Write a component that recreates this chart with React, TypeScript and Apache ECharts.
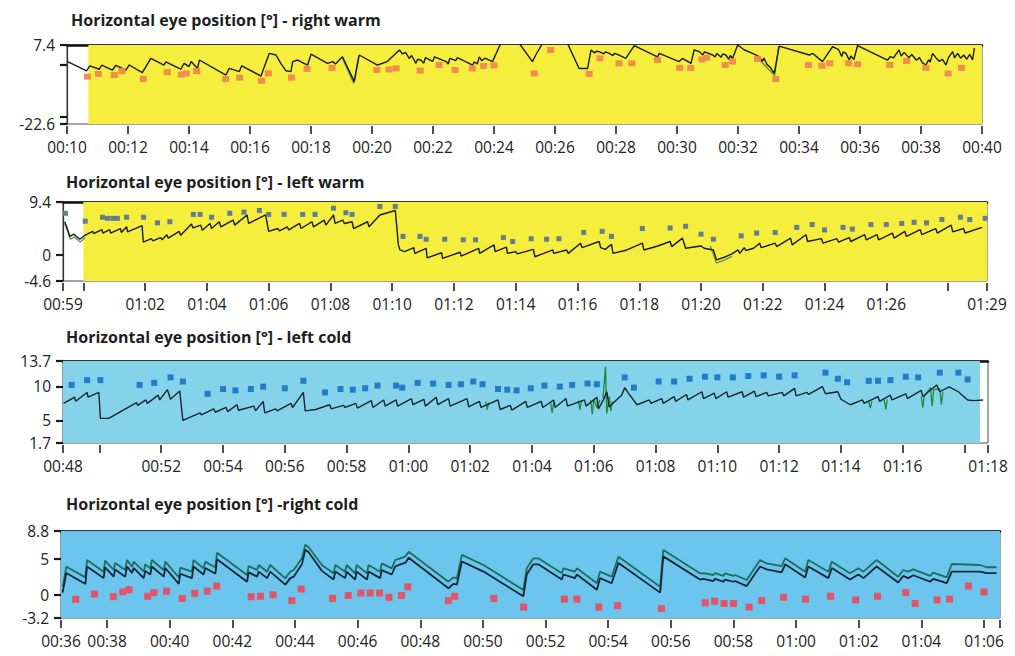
import React, { useEffect, useRef } from "react";
import * as echarts from "echarts";

// ---------- Panel 1: right warm ----------
const rwTrace: number[][] = [
  [10.02, 1.1], [10.64, -2.4], [10.75, -0.5], [11.06, -1.8], [11.14, -0.2], [11.49, -2.1], [11.6, -0.3],
  [11.93, -2.1], [12.04, -0.2], [12.47, -3.1], [12.75, 2.3], [13.18, -0.2], [13.24, 1.0], [13.73, -1.8],
  [13.84, 0.45], [14.0, -0.8], [14.07, 1.1], [14.28, -1.5], [14.34, 1.7], [15.21, -4.0], [15.32, -1.5],
  [15.65, -2.7], [15.73, -0.5], [16.36, -4.4], [16.63, 4.2], [16.85, 3.6], [17.01, 0.45], [17.18, -2.4],
  [17.34, -2.7], [17.4, 1.1], [17.56, 1.7], [17.89, -0.2], [18.0, 3.9], [18.54, 0.45], [18.71, 1.1],
  [18.8, 0.2], [19.03, 2.9], [19.42, -6.5], [19.58, 3.6], [20.18, -0.2], [20.5, 1.1], [20.9, 5.5],
  [21.0, 4.0], [21.1, 4.6], [21.22, 2.3], [21.3, 3.4], [21.44, 0.45], [21.5, 2.0], [21.6, 1.7],
  [21.7, 0.5], [21.75, 2.6], [21.99, 1.2], [22.05, 2.9], [22.43, 1.1], [22.5, 0.2], [22.55, 2.3],
  [22.75, 1.5], [22.8, 2.6], [23.3, -0.2], [23.35, 1.0], [23.45, 0.2], [23.52, 2.9], [23.6, 1.4],
  [23.7, 2.4], [23.95, 1.1], [24.22, 8.0], [24.83, 8.0], [25.26, 1.1], [25.37, 3.6], [25.59, 8.0],
  [25.86, 8.0], [26.41, 8.0], [26.79, -1.5], [27.07, -1.5], [27.18, 5.5], [27.3, 4.4], [27.35, 5.0],
  [27.45, 4.9], [27.6, 4.0], [27.65, 4.8], [27.78, 4.2], [27.9, 3.4], [27.95, 4.2], [28.1, 3.6],
  [28.32, 2.3], [28.6, 7.2], [29.36, 2.9], [29.42, 4.2], [30.07, 1.1], [30.18, 2.3], [30.46, 0.45],
  [30.56, 5.5], [30.73, 4.9], [30.85, 3.6], [30.9, 4.8], [31.17, 3.6], [31.25, 2.9], [31.3, 4.2],
  [31.45, 2.8], [31.5, 4.0], [31.6, 3.6], [31.7, 2.0], [31.75, 3.4], [31.82, 2.3], [31.99, 7.4],
  [32.2, 5.6], [32.4, 4.6], [32.55, 3.8], [32.7, 2.9], [32.8, 1.2], [32.85, 2.4], [32.95, 0.0],
  [33.05, -1.0], [33.19, -3.4], [33.35, 7.0], [34.34, 3.6], [34.45, 4.2], [34.77, 1.1], [35.1, 6.8],
  [35.3, 5.6], [35.4, 3.0], [35.45, 4.8], [35.54, 4.2], [35.65, 1.7], [35.7, 3.2], [35.8, 1.9],
  [35.92, 7.2], [36.9, 1.7], [37.0, 3.0], [37.1, 2.5], [37.2, 4.2], [37.28, 5.5], [37.35, 3.2],
  [37.45, 4.6], [37.6, 2.6], [37.7, 3.8], [37.85, 1.6], [37.95, 2.6], [38.05, 0.6], [38.16, -0.2],
  [38.25, 1.8], [38.3, 0.9], [38.38, 4.2], [38.5, 2.4], [38.6, 1.2], [38.7, 2.0], [38.82, -0.2],
  [38.9, 2.6], [39.04, 4.9], [39.1, 2.5], [39.2, 4.2], [39.3, 2.4], [39.4, 3.6], [39.5, 2.0],
  [39.6, 3.8], [39.69, 1.7], [39.75, 6.2],
];
const rwGreen: (number | string)[][] = [
  [19.03, 2.5], [19.4, -7.2], [19.56, 3.0], ["-", "-"],
  [32.6, 3.0], [33.2, -4.2], [33.33, 6.6],
];
const rwPoints: number[][] = [
  [10.67, -4.6], [11.03, -3.6], [11.55, -4.0], [11.8, -2.5], [12.5, -5.5], [13.29, -2.9], [13.75, -3.8],
  [13.91, -3.4], [14.25, -2.5], [15.2, -5.5], [15.66, -5.0], [16.38, -6.2], [16.6, -3.4], [17.36, -5.0],
  [17.87, -1.7], [18.69, -1.3], [20.16, -2.1], [20.56, -1.9], [20.79, -1.5], [21.58, -2.3], [22.2, -0.2],
  [22.72, -2.1], [23.29, -1.5], [23.66, -0.6], [24.0, -0.3], [25.32, -3.4], [25.86, 5.5], [27.12, -3.6],
  [27.47, 2.3], [28.1, 0.45], [28.52, 0.45], [29.36, 1.7], [30.09, -1.3], [30.45, -1.3], [30.81, 1.9],
  [30.97, 2.6], [31.58, -0.2], [31.82, 1.1], [32.64, 2.1], [33.24, -5.5], [34.31, -0.2], [34.75, -0.5],
  [35.01, 0.45], [35.63, 0.45], [35.92, 0.1], [36.98, -0.2], [37.53, 1.3], [38.16, -1.3], [38.89, -3.4],
  [39.33, -1.3],
];
const rwXTicks = [10, 12, 14, 16, 18, 20, 22, 24, 26, 28, 30, 32, 34, 36, 38, 40];
const rwXLabels = [10, 12, 14, 16, 18, 20, 22, 24, 26, 28, 30, 32, 34, 36, 38, 40];
const rwYTicks = [7.4, 0, -20, -22.6];
const rwYLabels = [7.4, -22.6];

// ---------- Panel 2: left warm ----------
const lwTrace: number[][] = [
  [59.39, 5.9], [59.46, 5.0], [59.56, 3.3], [59.69, 3.7], [59.88, 2.8], [60.05, 3.5], [60.3, 4.2],
  [60.33, 3.8], [60.6, 4.5], [60.63, 3.9], [60.85, 4.5], [60.88, 3.9], [61.2, 4.7], [61.23, 4.0],
  [61.4, 5.0], [61.43, 4.1], [61.9, 5.2], [61.94, 2.3], [62.2, 2.9], [62.25, 2.5], [62.5, 3.1],
  [62.55, 2.7], [62.7, 3.6], [62.75, 3.0], [63.1, 4.2], [63.15, 3.5], [63.5, 5.5], [63.55, 4.8],
  [63.8, 5.3], [63.85, 4.4], [64.1, 5.6], [64.15, 4.7], [64.4, 5.9], [64.45, 5.0], [64.85, 6.2],
  [64.9, 5.3], [65.3, 7.1], [65.35, 5.6], [65.9, 7.1], [66.0, 4.2], [66.3, 4.7], [66.35, 4.3],
  [66.6, 5.0], [66.65, 4.45], [67.0, 5.6], [67.05, 4.7], [67.4, 5.9], [67.45, 5.0], [67.8, 6.2],
  [67.85, 5.3], [68.1, 7.1], [68.15, 5.6], [68.4, 6.2], [68.45, 5.6], [68.7, 5.9], [68.75, 4.7],
  [69.2, 5.9], [69.25, 5.0], [69.6, 7.1], [70.1, 7.9], [70.2, 1.8], [70.25, 0.9], [70.4, 0.6],
  [70.7, 1.3], [70.73, 0.3], [71.1, 1.2], [71.13, -0.5], [71.6, 0.4], [71.63, -0.6], [72.2, 0.5],
  [72.23, -0.2], [72.8, 1.2], [72.83, 0.3], [73.3, 1.8], [73.33, 0.6], [73.7, 1.4], [73.73, 0.3],
  [74.0, 0.6], [74.05, 0.2], [74.57, 1.0], [74.62, -0.3], [74.95, 0.4], [75.2, 0.9], [75.23, 0.3],
  [75.65, 0.9], [75.7, 0.3], [76.1, 2.1], [76.15, 1.3], [76.7, 2.4], [76.75, 1.3], [76.9, 1.0],
  [77.1, 1.9], [77.15, 0.3], [77.6, 0.9], [78.1, 2.1], [78.15, 0.9], [78.6, 1.6], [79.0, 2.4],
  [79.05, 1.5], [79.4, 3.0], [79.5, 1.2], [80.0, 1.6], [80.1, 1.2], [80.4, 0.9], [80.5, -0.85],
  [80.8, -0.3], [81.0, 0.2], [81.2, 0.9], [81.25, 0.3], [81.4, 1.3], [81.45, 0.8], [81.7, 1.2],
  [81.9, 2.1], [81.95, 1.3], [82.4, 2.1], [82.45, 1.5], [82.9, 3.0], [82.95, 1.8], [83.4, 3.6],
  [83.45, 2.4], [83.9, 2.9], [83.95, 2.1], [84.4, 2.9], [84.45, 2.3], [84.8, 3.1], [84.85, 2.4],
  [85.3, 3.6], [85.35, 2.7], [85.7, 3.6], [85.75, 2.7], [86.2, 3.9], [86.25, 3.0], [86.6, 4.2],
  [86.65, 3.3], [87.1, 4.5], [87.15, 3.6], [87.6, 4.7], [87.65, 3.9], [88.1, 5.3], [88.15, 4.1],
  [88.5, 4.7], [88.55, 3.9], [89.1, 4.9],
];
const lwGreen: (number | string)[][] = [
  [59.4, 5.5], [59.47, 4.5], [59.58, 2.8], [59.7, 3.2], [59.9, 2.3], [60.05, 3.1], ["-", "-"],
  [80.3, 1.6], [80.5, -1.4], [80.8, -0.8], [81.0, -0.2],
];
const lwPoints: number[][] = [
  [59.42, 7.4], [60.06, 6.0], [60.62, 6.7], [60.78, 6.5], [60.95, 6.5], [61.1, 6.5], [61.4, 6.7],
  [61.95, 6.7], [62.4, 5.7], [62.8, 5.9], [63.56, 7.2], [63.78, 7.2], [64.15, 6.7], [64.74, 7.4],
  [65.2, 7.6], [65.7, 7.9], [66.0, 7.2], [66.5, 7.2], [67.1, 7.2], [67.5, 7.2], [68.1, 8.3],
  [68.5, 7.5], [68.7, 7.2], [69.6, 8.6], [70.1, 8.6], [70.35, 3.3], [70.9, 3.3], [71.1, 2.8],
  [71.7, 2.8], [72.3, 2.7], [72.7, 2.7], [73.6, 3.1], [73.9, 2.4], [74.5, 2.9], [75.0, 2.8],
  [75.4, 2.9], [76.2, 4.0], [76.8, 4.2], [77.1, 3.3], [78.1, 4.7], [79.0, 4.8], [79.5, 5.1],
  [80.0, 3.7], [80.4, 2.8], [81.3, 3.4], [81.8, 3.9], [82.4, 4.0], [83.1, 4.9], [83.6, 5.4],
  [84.0, 4.45], [84.6, 4.9], [84.9, 4.6], [85.5, 5.4], [86.0, 5.4], [86.5, 5.6], [86.9, 5.8],
  [87.3, 5.7], [87.8, 6.3], [88.4, 6.7], [88.7, 6.3], [89.2, 6.5],
];
const lwXTicks = [59.34, 60, 62, 64, 66, 68, 70, 72, 74, 76, 78, 80, 82, 84, 86, 88, 89.26];
const lwXLabels = [59.34, 62, 64, 66, 68, 70, 72, 74, 76, 78, 80, 82, 84, 86, 89.26];
const lwYTicks = [9.4, 0, -4.6];
const lwYLabels = [9.4, 0, -4.6];

// ---------- Panel 3: left cold ----------
const lcTrace: number[][] = [
  [48.84, 7.5], [49.2, 8.4], [49.23, 7.8], [49.6, 9.1], [49.63, 8.4], [49.98, 9.1], [50.03, 5.3],
  [50.3, 5.3], [51.2, 7.6], [51.24, 7.2], [51.5, 8.0], [51.55, 7.5], [51.9, 8.7], [51.95, 8.0],
  [52.2, 9.5], [52.3, 8.1], [52.6, 9.3], [52.7, 5.0], [53.26, 6.1], [53.3, 5.8], [53.7, 6.7],
  [53.75, 6.2], [54.1, 6.9], [54.15, 6.3], [54.45, 7.3], [54.5, 6.5], [55.0, 7.1], [55.05, 6.4],
  [55.3, 7.8], [55.35, 6.1], [55.7, 6.7], [55.75, 6.4], [56.2, 7.5], [56.25, 6.9], [56.6, 9.1],
  [56.66, 6.4], [57.0, 6.6], [57.45, 7.3], [57.5, 6.7], [57.9, 7.2], [57.95, 6.9], [58.3, 7.5],
  [58.35, 6.8], [58.8, 7.9], [58.85, 6.9], [59.2, 8.0], [59.25, 7.1], [59.6, 8.0], [59.65, 7.1],
  [60.1, 8.2], [60.15, 7.3], [60.5, 8.1], [60.55, 7.1], [60.9, 8.4], [60.95, 7.3], [61.3, 8.2],
  [61.35, 7.1], [61.9, 8.2], [61.95, 7.0], [62.3, 7.8], [62.35, 6.9], [62.9, 8.0], [62.97, 6.6],
  [63.3, 7.2], [63.35, 6.5], [63.8, 7.8], [63.85, 6.9], [64.3, 7.8], [64.35, 6.9], [64.7, 8.0],
  [64.75, 6.9], [65.1, 8.2], [65.15, 7.1], [65.7, 8.0], [65.75, 7.1], [66.1, 8.4], [66.15, 6.7],
  [66.3, 7.9], [66.42, 9.2], [66.5, 7.0], [66.9, 8.7], [67.0, 9.8], [67.2, 8.5], [67.4, 7.3],
  [67.8, 8.0], [67.85, 7.5], [68.2, 8.2], [68.25, 7.5], [68.6, 8.5], [68.65, 7.8], [69.0, 8.8],
  [69.05, 8.0], [69.5, 9.2], [69.55, 8.2], [69.9, 9.0], [69.95, 8.2], [70.3, 9.2], [70.35, 8.4],
  [70.8, 9.2], [70.85, 8.4], [71.2, 9.3], [71.25, 8.5], [71.6, 9.1], [71.65, 8.6], [72.1, 9.1],
  [72.15, 8.6], [72.5, 9.7], [72.55, 8.6], [72.9, 9.1], [72.95, 8.8], [73.4, 9.95], [73.5, 8.9],
  [73.9, 9.2], [74.0, 8.1], [74.3, 7.3], [74.7, 8.0], [74.75, 7.5], [75.2, 8.5], [75.25, 7.8],
  [75.6, 8.7], [75.65, 8.0], [76.1, 8.9], [76.15, 8.2], [76.6, 9.4], [76.65, 8.5], [77.1, 10.2],
  [77.2, 9.2], [77.5, 9.9], [77.8, 9.2], [78.1, 8.0], [78.3, 7.9], [78.6, 8.0],
];
const lcGreen: (number | string)[][] = [
  [62.5, 7.8], [62.55, 6.6], [62.6, 7.6], ["-", "-"],
  [64.6, 7.7], [64.65, 6.1], [64.7, 7.6], ["-", "-"],
  [65.5, 7.9], [65.55, 6.6], [65.6, 7.9], ["-", "-"],
  [65.9, 8.0], [65.95, 5.9], [66.0, 8.1], [66.1, 6.9], [66.2, 8.0], ["-", "-"],
  [66.3, 8.3], [66.38, 12.9], [66.42, 6.0], [66.5, 8.5], [66.55, 6.4], [66.6, 7.8], ["-", "-"],
  [74.9, 7.9], [74.95, 6.8], [75.0, 7.8], ["-", "-"],
  [75.4, 8.0], [75.45, 6.6], [75.5, 8.1], ["-", "-"],
  [76.6, 8.5], [76.65, 6.9], [76.7, 8.6], [76.9, 9.8], [76.95, 7.1], [77.0, 9.5], [77.2, 9.6],
  [77.25, 7.3], [77.3, 9.2],
];
const lcPoints: number[][] = [
  [49.1, 10.2], [49.6, 10.9], [50.03, 10.9], [51.3, 10.2], [51.77, 10.5], [52.3, 11.3], [52.7, 10.7],
  [53.5, 8.9], [54.0, 9.6], [54.4, 9.4], [54.9, 9.6], [55.3, 9.95], [56.0, 9.7], [56.6, 10.8],
  [57.3, 9.1], [57.8, 9.6], [58.2, 9.5], [58.6, 9.7], [59.0, 10.1], [59.6, 10.1], [59.8, 9.8],
  [60.3, 10.5], [60.8, 10.4], [61.3, 10.2], [61.7, 10.3], [62.1, 10.7], [62.4, 10.3], [62.9, 9.6],
  [63.2, 9.5], [63.5, 9.4], [63.96, 9.7], [64.4, 10.1], [64.9, 9.95], [65.3, 10.2], [65.8, 10.4],
  [66.1, 10.3], [67.0, 11.3], [67.3, 9.8], [68.1, 10.7], [68.6, 10.7], [69.1, 11.1], [69.6, 11.4],
  [70.0, 11.3], [70.5, 11.3], [71.0, 11.5], [71.5, 11.6], [72.0, 11.4], [72.5, 11.6], [73.5, 12.0],
  [73.9, 11.1], [74.2, 10.6], [74.9, 10.8], [75.2, 10.8], [75.6, 10.9], [76.1, 11.4], [76.5, 11.3],
  [77.2, 12.0], [77.8, 12.0], [78.1, 11.0],
];
const lcXTicks = [48.82, 50, 52, 54, 56, 58, 60, 62, 64, 66, 68, 70, 72, 74, 76, 78, 78.76];
const lcXLabels = [48.82, 52, 54, 56, 58, 60, 62, 64, 66, 68, 70, 72, 74, 76, 78.76];
const lcYTicks = [13.7, 10, 5, 1.7];
const lcYLabels = [13.7, 10, 5, 1.7];

// ---------- Panel 4: right cold ----------
const rcUpper: number[][] = [
  [36.59, 1.12], [36.7, 3.88], [37.31, 2.4], [37.36, 4.8], [37.89, 3.19], [37.94, 4.7], [38.21, 3.42],
  [38.26, 4.4], [38.58, 3.42], [38.64, 4.8], [38.8, 3.88], [38.85, 4.57], [39.17, 3.19], [39.22, 4.2],
  [39.38, 3.65], [39.43, 4.8], [39.81, 3.42], [39.86, 4.57], [40.29, 2.4], [40.34, 3.76], [40.71, 3.19],
  [40.76, 4.8], [41.08, 3.65], [41.14, 4.57], [41.46, 3.76], [41.51, 5.8], [42.47, 2.73], [42.52, 3.97],
  [42.79, 3.42], [42.84, 4.11], [43.11, 3.19], [43.21, 4.11], [43.69, 2.27], [43.85, 3.19], [43.96, 3.42],
  [44.22, 5.03], [44.33, 6.9], [44.43, 6.6], [44.86, 4.11], [45.23, 2.96], [45.29, 4.11], [45.6, 3.19],
  [45.65, 4.11], [45.92, 2.96], [45.97, 4.11], [46.3, 2.96], [46.35, 4.11], [46.72, 3.19], [46.77, 4.34],
  [47.09, 3.65], [47.2, 4.8], [47.36, 5.03], [47.52, 5.26], [47.63, 5.95], [48.9, 1.81], [49.06, 2.4],
  [49.17, 2.27], [49.33, 5.5], [50.02, 4.11], [51.29, 0.66], [51.4, 3.65], [51.61, 5.03], [51.77, 5.03],
  [52.52, 2.96], [52.57, 3.65], [52.94, 3.19], [53.0, 3.65], [53.64, 1.58], [53.74, 3.19], [54.11, 2.5],
  [54.33, 5.26], [55.66, 1.12], [55.76, 6.18], [56.93, 2.96], [57.04, 3.0], [57.36, 2.73], [57.41, 3.0],
  [57.68, 2.6], [57.73, 2.96], [58.0, 2.6], [58.05, 2.73], [58.42, 2.04], [58.85, 4.8], [59.06, 4.34],
  [59.54, 3.97], [59.65, 5.03], [60.29, 3.19], [60.39, 4.8], [61.03, 3.19], [61.14, 4.57], [61.72, 2.96],
  [61.99, 3.65], [62.15, 3.19], [62.57, 4.8], [63.26, 2.5], [63.42, 3.42], [63.58, 3.19], [63.74, 3.5],
  [64.28, 2.6], [64.38, 3.07], [64.81, 2.4], [64.97, 4.25], [65.87, 4.11], [66.08, 3.8], [66.4, 3.8],
];
const rcLower: number[][] = [
  [36.58, 0.3], [36.7, 3.0], [37.31, 1.5], [37.36, 3.9], [37.89, 2.3], [37.94, 3.8], [38.21, 2.5],
  [38.26, 3.5], [38.58, 2.5], [38.64, 3.9], [38.8, 3.0], [38.85, 3.7], [39.17, 2.3], [39.22, 3.3],
  [39.38, 2.8], [39.43, 3.9], [39.81, 2.5], [39.86, 3.7], [40.29, 1.5], [40.34, 2.9], [40.71, 2.3],
  [40.76, 3.9], [41.08, 2.8], [41.14, 3.7], [41.46, 2.9], [41.51, 4.9], [42.47, 1.8], [42.52, 3.1],
  [42.79, 2.5], [42.84, 3.2], [43.11, 2.3], [43.21, 3.2], [43.69, 1.4], [43.85, 2.3], [43.96, 2.5],
  [44.22, 4.2], [44.33, 6.2], [44.43, 5.9], [44.86, 3.3], [45.23, 2.1], [45.29, 3.2], [45.6, 2.3],
  [45.65, 3.2], [45.92, 2.1], [45.97, 3.2], [46.3, 2.1], [46.35, 3.2], [46.72, 2.3], [46.77, 3.4],
  [47.09, 2.8], [47.2, 3.9], [47.36, 4.2], [47.52, 4.4], [47.63, 5.1], [48.9, 0.9], [49.06, 1.5],
  [49.17, 1.4], [49.33, 4.6], [50.02, 3.2], [51.29, -0.2], [51.4, 2.8], [51.61, 4.2], [51.77, 4.2],
  [52.52, 2.1], [52.57, 2.8], [52.94, 2.3], [53.0, 2.8], [53.64, 0.7], [53.74, 2.3], [54.11, 1.6],
  [54.33, 4.4], [55.66, 0.3], [55.76, 5.3], [56.93, 2.1], [57.04, 2.2], [57.36, 1.9], [57.41, 2.2],
  [57.68, 1.8], [57.73, 2.1], [58.0, 1.8], [58.05, 1.9], [58.42, 1.2], [58.85, 3.9], [59.06, 3.5],
  [59.54, 3.1], [59.65, 4.2], [60.29, 2.4], [60.39, 3.9], [61.03, 2.3], [61.14, 3.7], [61.72, 2.1],
  [61.99, 2.8], [62.15, 2.3], [62.57, 3.9], [63.26, 1.7], [63.42, 2.6], [63.58, 2.3], [63.74, 2.7],
  [64.28, 1.8], [64.38, 2.2], [64.81, 1.6], [64.97, 3.2], [65.87, 3.2], [66.08, 3.0], [66.4, 3.0],
];
const rcPoints: number[][] = [
  [37.0, -0.62], [37.6, 0.1], [38.2, -0.26], [38.5, 0.4], [38.7, 0.7], [39.3, -0.2], [39.5, 0.3],
  [39.9, 0.5], [40.4, -0.5], [40.8, 0.2], [41.2, 0.5], [41.5, 1.2], [42.6, -0.26], [42.9, -0.2],
  [43.3, 0.0], [43.9, -0.8], [44.2, 0.8], [45.2, -0.5], [45.7, -0.1], [46.1, 0.25], [46.4, 0.25],
  [46.7, 0.25], [47.0, -0.35], [47.4, -0.1], [47.6, 1.1], [48.9, -0.8], [49.1, -0.2], [50.35, -0.5],
  [51.3, -1.7], [52.6, -0.6], [53.0, -0.6], [53.7, -1.7], [54.3, -1.5], [55.7, -1.9], [57.1, -1.1],
  [57.4, -0.9], [57.7, -1.2], [58.0, -1.2], [58.5, -1.7], [58.9, -0.8], [59.6, -0.35], [60.3, -0.6],
  [61.1, -0.2], [61.9, -0.7], [62.6, -0.2], [63.5, 0.3], [63.8, -1.2], [64.5, -0.7], [64.9, -0.6],
  [65.5, 1.2], [66.0, 0.4],
];
const rcXTicks = [36.53, 38, 40, 42, 44, 46, 48, 50, 52, 54, 56, 58, 60, 62, 64, 66, 66.51];
const rcXLabels = [36.53, 38, 40, 42, 44, 46, 48, 50, 52, 54, 56, 58, 60, 62, 64, 66];
const rcYTicks = [8.8, 5, 0, -3.2];
const rcYLabels = [8.8, 5, 0, -3.2];

const titles = [
  "Horizontal eye position [°] - right warm",
  "Horizontal eye position [°] - left warm",
  "Horizontal eye position [°] - left cold",
  "Horizontal eye position [°] -right cold",
];

function fmtTime(v: number): string {
  const m = Math.floor(v + 1e-6);
  const h = Math.floor(m / 60);
  const mm = m % 60;
  return String(h).padStart(2, "0") + ":" + String(mm).padStart(2, "0");
}

const FONT = "'Open Sans', 'DejaVu Sans', sans-serif";

export default function App() {
  const ref = useRef<HTMLDivElement>(null);

  useEffect(() => {
    const panels = [
      {
        title: titles[0], tLeft: 66, tTop: 7,
        grid: { left: 67, top: 45, width: 915, height: 79 },
        xMin: 10, xMax: 40, xTicks: rwXTicks, xLabels: rwXLabels,
        yMin: -22.6, yMax: 7.4, yTicks: rwYTicks, yLabels: rwYLabels,
        bg: "#f6ee3c", bgFrom: 10.7, bgTo: 40,
        trace: rwTrace, traceColor: "#1b1b1b", green: rwGreen, greenColor: "#4d9a3c",
        upper: null as any,
        points: rwPoints, pointColor: "#f0884e", pointSize: [7, 6],
      },
      {
        title: titles[1], tLeft: 61, tTop: 169,
        grid: { left: 63, top: 202, width: 924, height: 79 },
        xMin: 59.34, xMax: 89.26, xTicks: lwXTicks, xLabels: lwXLabels,
        yMin: -4.6, yMax: 9.4, yTicks: lwYTicks, yLabels: lwYLabels,
        bg: "#f6ee3c", bgFrom: 60, bgTo: 89.26,
        trace: lwTrace, traceColor: "#1b1b1b", green: lwGreen, greenColor: "#5a9a4a",
        upper: null as any,
        points: lwPoints, pointColor: "#5b7893", pointSize: [5, 5],
      },
      {
        title: titles[2], tLeft: 61, tTop: 324,
        grid: { left: 63, top: 361, width: 925, height: 82 },
        xMin: 48.82, xMax: 78.76, xTicks: lcXTicks, xLabels: lcXLabels,
        yMin: 1.7, yMax: 13.7, yTicks: lcYTicks, yLabels: lcYLabels,
        bg: "#84d3ea", bgFrom: 48.82, bgTo: 78.5,
        trace: lcTrace, traceColor: "#16262a", green: lcGreen, greenColor: "#1f8a3c",
        upper: null as any,
        points: lcPoints, pointColor: "#1e77c6", pointSize: [6, 6],
      },
      {
        title: titles[3], tLeft: 61, tTop: 491,
        grid: { left: 61, top: 531, width: 939, height: 87 },
        xMin: 36.53, xMax: 66.51, xTicks: rcXTicks, xLabels: rcXLabels,
        yMin: -3.2, yMax: 8.8, yTicks: rcYTicks, yLabels: rcYLabels,
        bg: "#6cc5ec", bgFrom: 36.53, bgTo: 66.51,
        trace: rcLower, traceColor: "#12263a", green: null as any, greenColor: "",
        upper: rcUpper,
        points: rcPoints, pointColor: "#e84e62", pointSize: [7, 7],
      },
    ];

    const labelStyle = { fontFamily: FONT, fontSize: 15.5, color: "#222" };

    const option: any = {
      animation: false,
      backgroundColor: "#ffffff",
      title: panels.map((p) => ({
        text: p.title,
        left: p.tLeft,
        top: p.tTop,
        textStyle: { fontFamily: FONT, fontSize: 16, fontWeight: "bold", color: "#1e1e1e" },
      })),
      grid: panels.map((p) => ({
        ...p.grid,
        show: true,
        borderColor: "#4a4a4a",
        borderWidth: 1,
        backgroundColor: "transparent",
      })),
      xAxis: [
        ...panels.map((p, i) => ({
          type: "value",
          gridIndex: i,
          min: p.xMin,
          max: p.xMax,
          offset: 2,
          axisLine: { show: true, onZero: false, lineStyle: { color: "rgba(0,0,0,0)", width: 1 } },
          splitLine: { show: false },
          axisTick: {
            show: true,
            customValues: p.xTicks,
            length: 8,
            lineStyle: { color: "#222", width: 1.6 },
          },
          axisLabel: {
            show: true,
            customValues: p.xLabels,
            margin: 13,
            formatter: (v: number) => fmtTime(v),
            ...labelStyle,
          },
        })),
        ...panels.map((p, i) => ({
          type: "value",
          gridIndex: i,
          position: "top",
          min: p.xMin,
          max: p.xMax,
          axisLine: { show: true, onZero: false, lineStyle: { color: "#111", width: 2.5 } },
          axisTick: { show: false },
          axisLabel: { show: false },
          splitLine: { show: false },
        })),
      ],
      yAxis: panels.map((p, i) => ({
        type: "value",
        gridIndex: i,
        position: "left",
        min: p.yMin,
        max: p.yMax,
        axisLine: { show: true, onZero: false, lineStyle: { color: "#333", width: 1.2 } },
        splitLine: { show: false },
        axisTick: {
          show: true,
          customValues: p.yTicks,
          length: 7,
          lineStyle: { color: "#1a1a1a", width: 2.2 },
        },
        axisLabel: {
          show: true,
          customValues: p.yLabels,
          margin: 12,
          formatter: (v: number) => String(v),
          ...labelStyle,
        },
      })),
      series: [] as any[],
    };

    panels.forEach((p, i) => {
      if (p.green) {
        option.series.push({
          type: "line",
          xAxisIndex: i,
          yAxisIndex: i,
          data: p.green,
          symbol: "none",
          connectNulls: false,
          lineStyle: { color: p.greenColor, width: 1.3 },
          z: 2,
        });
      }
      if (p.upper) {
        option.series.push({
          type: "line",
          xAxisIndex: i,
          yAxisIndex: i,
          data: p.upper,
          symbol: "none",
          lineStyle: { color: "#1b6f5d", width: 1.8 },
          z: 3,
        });
      }
      option.series.push({
        type: "line",
        xAxisIndex: i,
        yAxisIndex: i,
        data: p.trace,
        symbol: "none",
        clip: true,
        lineStyle: { color: p.traceColor, width: p.upper ? 1.8 : 1.4 },
        z: 3,
        markArea: {
          silent: true,
          z: 1,
          itemStyle: { color: p.bg, opacity: 1 },
          data: [[{ xAxis: p.bgFrom, yAxis: p.yMin }, { xAxis: p.bgTo, yAxis: p.yMax }]],
        },
      });
      option.series.push({
        type: "scatter",
        xAxisIndex: i,
        yAxisIndex: i,
        data: p.points,
        symbol: "rect",
        symbolSize: p.pointSize,
        itemStyle: { color: p.pointColor, opacity: 0.95 },
        z: 4,
      });
    });

    const chart = echarts.init(ref.current!, null, { renderer: "svg" });
    chart.setOption(option);
    return () => chart.dispose();
  }, []);

  return (
    <div
      ref={ref}
      style={{ position: "fixed", left: 0, top: 0, width: 1015, height: 656, background: "#fff" }}
    />
  );
}
